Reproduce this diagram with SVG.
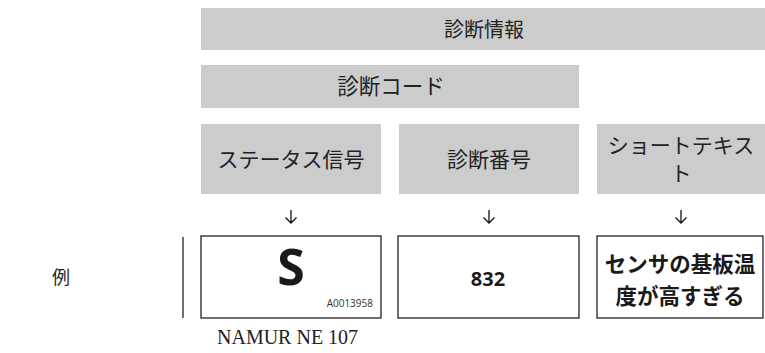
<svg xmlns="http://www.w3.org/2000/svg" width="765" height="353" viewBox="0 0 765 353">
<style>
.bar{fill:#cccccc}
.jp{font-family:"Liberation Serif","Noto Sans CJK JP",serif;font-size:21px;fill:#222;text-anchor:middle}
.box{fill:#fff;stroke:#222;stroke-width:1.3}
.b{font-family:"Noto Sans","Noto Sans CJK JP",sans-serif;font-weight:bold;fill:#1a1a1a;text-anchor:middle}
.arr{fill:none;stroke:#111;stroke-width:1.3;stroke-linejoin:miter}
</style>
<defs>
<path id="down" class="arr" d="M0,-7 V6 M-5.5,0.5 L0,6 L5.5,0.5"/>
</defs>
<rect width="765" height="353" fill="#fff"/>
<g id="diag-info">
<rect class="bar" x="201" y="8" width="564" height="42"/>
<text class="jp" x="484" y="37" style="font-size:20px">診断情報</text>
</g>
<g id="diag-code">
<rect class="bar" x="201" y="65" width="378" height="43"/>
<text class="jp" x="391" y="94" style="font-size:21.5px">診断コード</text>
</g>
<g id="status-signal">
<rect class="bar" x="201" y="124" width="180" height="70"/>
<text class="jp" x="291" y="167">ステータス信号</text>
</g>
<g id="diag-number">
<rect class="bar" x="399" y="124" width="180" height="70"/>
<text class="jp" x="489" y="167">診断番号</text>
</g>
<g id="short-text">
<rect class="bar" x="597" y="124" width="168" height="70"/>
<text class="jp" x="681" y="153">ショートテキス</text>
<text class="jp" x="681" y="181">ト</text>
</g>
<g id="connectors">
<use href="#down" x="291" y="217"/>
<use href="#down" x="489" y="217"/>
<use href="#down" x="681" y="217"/>
</g>
<g id="example-label">
<text x="52" y="284" style="font-family:'Liberation Serif','Noto Sans CJK JP',serif;font-size:18px;fill:#222">例</text>
<line x1="183" y1="237" x2="183" y2="318" stroke="#222" stroke-width="1.3"/>
</g>
<g id="ex-status">
<rect class="box" x="201" y="236" width="180" height="82"/>
<text class="b" x="291" y="285" style="font-size:50px">S</text>
<text x="373" y="307" style="font-family:'Open Sans',sans-serif;font-size:10px;fill:#333;text-anchor:end">A0013958</text>
</g>
<g id="ex-number">
<rect class="box" x="398" y="236" width="181" height="82"/>
<text class="b" x="488" y="286" style="font-size:20px">832</text>
</g>
<g id="ex-text">
<rect class="box" x="597" y="236" width="166" height="82"/>
<text class="b" x="680" y="272" style="font-size:21.5px">センサの基板温</text>
<text class="b" x="680" y="304" style="font-size:21.5px">度が高すぎる</text>
</g>
<text x="217" y="344" style="font-family:'Liberation Serif',serif;font-size:20px;fill:#222">NAMUR NE 107</text>
</svg>
